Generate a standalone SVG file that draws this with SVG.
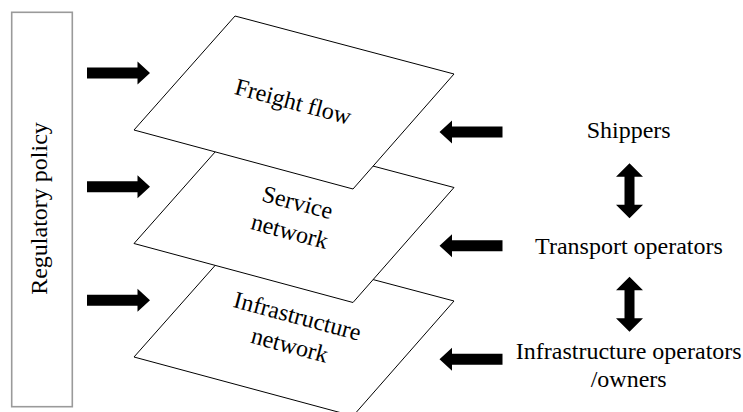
<svg xmlns="http://www.w3.org/2000/svg" xmlns:xlink="http://www.w3.org/1999/xlink" width="743" height="412" viewBox="0 0 743 412">
  <style>
    .t { font-family: "Liberation Serif", "Times New Roman", serif; font-size: 24px; fill: #000; text-anchor: middle; }
    .layer { fill: #fff; stroke: #000; stroke-width: 1; }
    .box { fill: #fff; stroke: #9a9a9a; stroke-width: 1.6; }
    .arr { fill: #000; }
  </style>
  <defs>
    <path id="arrR" class="arr" d="M0,0 L-12.5,-11.5 L-12.5,-5.5 L-63,-5.5 L-63,5.5 L-12.5,5.5 L-12.5,11.5 Z"/>
    <path id="arrUD" class="arr" d="M0,0 L13.5,13.5 L5,13.5 L5,41.5 L13.5,41.5 L0,55 L-13.5,41.5 L-5,41.5 L-5,13.5 L-13.5,13.5 Z"/>
  </defs>
  <rect width="743" height="412" fill="#fff"/>

  <g id="regulatory-policy">
    <rect class="box" x="11.7" y="12.3" width="60.6" height="394.4"/>
    <text class="t" transform="translate(46.7,208.5) rotate(-90)" x="0" y="0">Regulatory policy</text>
  </g>

  <g id="infrastructure-network">
    <polygon class="layer" points="235,243 454,301 353,416 134,357"/>
    <g transform="translate(293.6,330.5) rotate(15)">
      <text class="t" x="0" y="-7">Infrastructure</text>
      <text class="t" x="0" y="23">network</text>
    </g>
  </g>

  <g id="service-network">
    <polygon class="layer" points="235,129.5 454,187.5 353,302.5 134,243.5"/>
    <g transform="translate(293.6,216.8) rotate(15)">
      <text class="t" x="0" y="-7">Service</text>
      <text class="t" x="0" y="23">network</text>
    </g>
  </g>

  <g id="freight-flow">
    <polygon class="layer" points="235,16 454,74 353,189 134,130"/>
    <text class="t" transform="translate(293.3,101.5) rotate(15)" x="0" y="8">Freight flow</text>
  </g>

  <g id="shippers">
    <text class="t" x="628.7" y="137.7">Shippers</text>
  </g>
  <g id="transport-operators">
    <text class="t" x="629" y="254.3">Transport operators</text>
  </g>
  <g id="infrastructure-operators">
    <text class="t" x="628.7" y="359.3">Infrastructure operators</text>
    <text class="t" x="628.7" y="386.7">/owners</text>
  </g>

  <g id="connectors">
    <use xlink:href="#arrR" transform="translate(150,73)"/>
    <use xlink:href="#arrR" transform="translate(150,186.7)"/>
    <use xlink:href="#arrR" transform="translate(150,300.2)"/>
    <use xlink:href="#arrR" transform="translate(439.5,132) rotate(180)"/>
    <use xlink:href="#arrR" transform="translate(439.5,245.7) rotate(180)"/>
    <use xlink:href="#arrR" transform="translate(439.5,359.3) rotate(180)"/>
    <use xlink:href="#arrUD" transform="translate(629.5,163.3)"/>
    <use xlink:href="#arrUD" transform="translate(629.5,276.8)"/>
  </g>
</svg>
